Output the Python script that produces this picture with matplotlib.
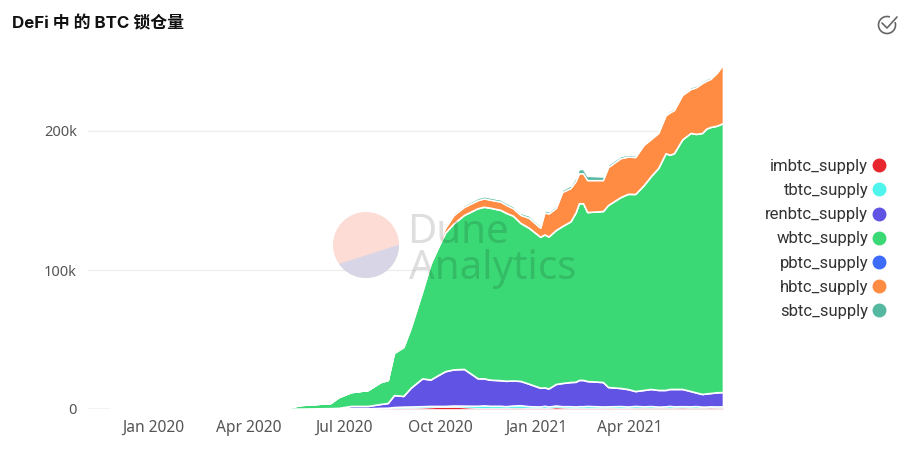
import matplotlib
matplotlib.use("Agg")
import matplotlib.pyplot as plt
from matplotlib.lines import Line2D
from matplotlib.patches import Circle, Polygon, Arc
import pandas as pd

plt.rcParams['font.family'] = ['Noto Sans', 'DejaVu Sans']

title = "DeFi 中 的 BTC 锁仓量"
dates = ["2019-11-20","2020-01-01","2020-04-01","2020-05-06","2020-05-21","2020-06-18","2020-06-26","2020-07-08",
         "2020-07-24","2020-08-05","2020-08-12","2020-08-18","2020-08-27","2020-09-03","2020-09-14","2020-09-22",
         "2020-09-30","2020-10-06","2020-10-14","2020-10-24","2020-11-06","2020-11-12","2020-11-18","2020-11-28",
         "2020-12-03","2020-12-10","2020-12-17","2020-12-25","2021-01-05","2021-01-09","2021-01-13","2021-01-20",
         "2021-01-26","2021-02-03","2021-02-08","2021-02-11","2021-02-15","2021-02-19","2021-03-06","2021-03-11",
         "2021-03-23","2021-03-30","2021-04-06","2021-04-14","2021-04-21","2021-04-28","2021-05-05","2021-05-09",
         "2021-05-13","2021-05-21","2021-05-29","2021-06-03","2021-06-09","2021-06-13","2021-06-17","2021-06-23",
         "2021-06-29"]
# values in thousands of BTC
imbtc_supply = [0,.1,.2,.2,.2,.2,.2,.3,
                .3,.5,.5,.6,.7,.8,1,1.2,
                1.4,1.4,1.5,1.2,.8,.8,.8,.8,
                .8,.9,.9,.8,.8,.8,.8,1.2,
                1,.8,.8,.8,.8,.8,.8,.9,
                .8,.8,.9,.9,.9,.9,.9,.9,
                .9,1,.9,.9,.9,.9,1,.9,
                .9]
tbtc_supply = [0,0,0,0,0,0,.1,.2,
               .2,.3,.4,.8,1,1,1,1,
               .8,.8,1,1.2,1.5,1.8,1.5,1.5,
               1.2,1.6,1.8,1.2,1,1.5,1,1.3,
               1,1.2,1,1.2,1.2,1.4,1,1,
               1.3,1,1.3,1,1.2,.8,1,1.3,
               1,1,1,1.2,.8,.8,.9,.9,
               1]
renbtc_supply = [0,0,.05,.1,.1,.4,.5,1.7,
                 1.7,2.8,3.4,8.6,7.7,13.5,20,19,
                 22.5,25,26,26.4,19.8,19.4,18.8,18.4,
                 18.3,18,17.5,16.2,13.5,13.2,13,15.5,
                 16.7,17.4,17.8,18.9,18.9,17.9,17.6,13.9,
                 13,12.5,10.7,11.8,12.3,12,11.8,12.2,
                 12.5,12.4,11,9.8,9.1,9.5,9.6,10.2,
                 10.3]
wbtc_supply = [0,.1,.2,.5,2.6,3.7,7.8,10,
               11.5,15.8,16.6,30.3,35.2,43.2,62.6,83.4,
               93,99.7,105,110.8,122.3,123.5,123.7,122.5,
               120.9,118.5,113.7,112.2,108.6,110.1,109.3,110.8,
               112.9,115.6,122,127.1,127.1,121.6,123,131,
               137.4,140.5,141.8,147.3,153.2,159.7,170.3,168.5,
               169.6,179.6,185.7,186,187.8,190.5,191.4,191.8,
               193.5]
pbtc_supply = [0]*len(dates)
hbtc_supply = [0,0,0,0,0,0,0,0,
               0,0,0,1.5,1.5,1.5,1.6,2,
               3,3.5,6,5.8,5.8,6,5.8,6,
               5.8,5.4,5.8,7.2,6.5,15.8,16.6,15.8,
               24.5,24,22.5,21.6,21.6,23,22.3,27.3,
               28,26.8,26.6,29,26.6,25.2,27.3,30.5,
               31,32,31.6,33.5,35.9,34.5,34.6,38,
               42.3]
sbtc_supply = [0,0,0,0,0,0,0,0,
               0,0,0,1,1.2,1,1.2,1.2,
               1.3,1.3,1.4,1.3,1.5,1.5,1.5,1.5,
               1.5,1.5,1.4,1.6,1.5,1.5,1.5,1.5,
               1.5,1.8,2.5,3,3,3,2.5,1.7,
               1.5,1.3,1.3,1.3,1.3,1.2,1.3,1.3,
               1.3,1.3,1.3,1.3,1.3,1.3,1.3,1.3,
               1.3]
names = ["imbtc_supply","tbtc_supply","renbtc_supply","wbtc_supply","pbtc_supply","hbtc_supply","sbtc_supply"]
series = [imbtc_supply,tbtc_supply,renbtc_supply,wbtc_supply,pbtc_supply,hbtc_supply,sbtc_supply]
colors = ["#e8262e","#4ff5ec","#6153e3","#3bd975","#3d6bfa","#ff8c42","#55b8a0"]
strokes = [0.5,0.5,1.2,1.2,0,1.2,1.0]
x_ticks = ["2020-01-01","2020-04-01","2020-07-01","2020-10-01","2021-01-01","2021-04-01"]
x_labels = ["Jan 2020","Apr 2020","Jul 2020","Oct 2020","Jan 2021","Apr 2021"]
y_ticks = [0,100,200]
y_labels = ["0","100k","200k"]

W,H = 910,466
fig = plt.figure(figsize=(W/100,H/100),dpi=100)
L,R,T,B = 88,723,60,409
ax = fig.add_axes([L/W,1-B/H,(R-L)/W,(B-T)/H])
xs = pd.to_datetime(dates)
bottom = [0]*len(dates)
for name,vals,c,lw in zip(names,series,colors,strokes):
    top = [a+b for a,b in zip(bottom,vals)]
    ax.fill_between(xs,bottom,top,facecolor=c,edgecolor="white",linewidth=lw,zorder=3,label=name)
    bottom = top
ax.axhline(0,color="#cfcfcf",lw=1,zorder=2)
ax.set_xlim(pd.Timestamp("2019-10-30"),pd.Timestamp("2021-06-29"))
ax.set_ylim(0,(B-T)/1.39)
ax.set_yticks(y_ticks,y_labels)
ax.set_xticks(pd.to_datetime(x_ticks),x_labels)
ax.tick_params(length=0,labelcolor="#555555")
ax.tick_params(axis='x',pad=8,labelsize=11.2)
ax.tick_params(axis='y',pad=8,labelsize=10.5)
ax.grid(axis='y',color="#eeeeee",lw=0.9,zorder=1)
ax.grid(axis='x',visible=False)
for s in ax.spines.values():
    s.set_visible(False)

handles = [Line2D([],[],ls='none',marker='o',ms=9,color=c,label=n) for n,c in zip(names,colors)]
fig.legend(handles=handles,loc='upper right',bbox_to_anchor=(896/W,1-159/H),frameon=False,markerfirst=False,
           labelspacing=0.55,handletextpad=-0.34,borderpad=0,borderaxespad=0,
           prop={'family':'Roboto','size':12},labelcolor="#333333")

# overlay in pixel coordinates: title, watermark, icon
ov = fig.add_axes([0,0,1,1],zorder=5)
ov.set_xlim(0,W); ov.set_ylim(H,0); ov.axis('off'); ov.patch.set_alpha(0)
ov.text(12,28,title,fontsize=12.2,fontweight='bold',color="#111111",
        family=['Inter','Noto Sans CJK SC','DejaVu Sans'],va='baseline')
clip = Circle((366,245),33,transform=ov.transData)
p1 = Circle((366,245),33,fc="#fcdcd5",ec='none')
ov.add_patch(p1)
p2 = Polygon([(320,270),(420,238),(420,300),(320,300)],fc="#d8d6e6",ec='none')
ov.add_patch(p2); p2.set_clip_path(clip)
ov.text(407,243,"Dune",fontsize=29,fontweight='medium',color="#000000",alpha=.13,va='baseline',family='Noto Sans')
ov.text(409,279,"Analytics",fontsize=29,fontweight='medium',color="#000000",alpha=.13,va='baseline',family='Noto Sans')
ov.add_patch(Arc((887,25),17,17,theta1=-20,theta2=290,ec="#666666",lw=1.2))
ov.plot([882,887,897],[23,28,17],color="#666666",lw=1.2,solid_capstyle='round')

fig.savefig("out.png",dpi=100)
